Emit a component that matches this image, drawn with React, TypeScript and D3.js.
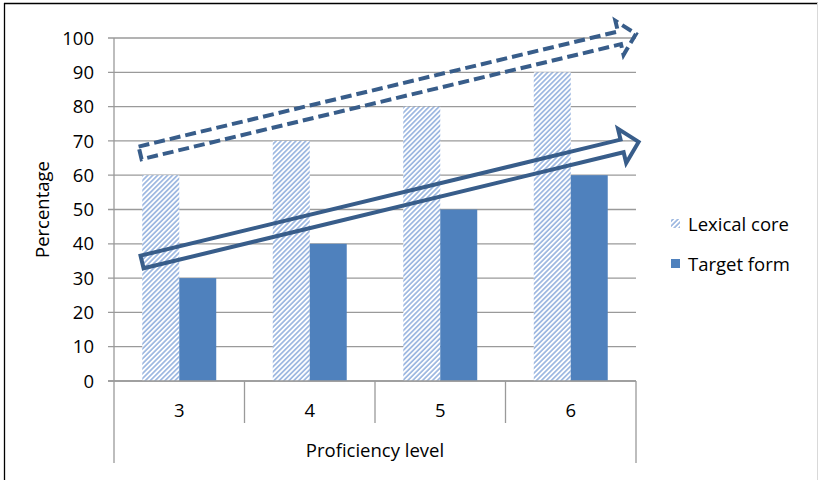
import React from "react";
import * as d3 from "d3";

const categories = ["3", "4", "5", "6"];
const seriesNames = ["Lexical core", "Target form"];
const lexicalCore = [60, 70, 80, 90];
const targetForm = [30, 40, 50, 60];
const yTicks = [0, 10, 20, 30, 40, 50, 60, 70, 80, 90, 100];
// annotation arrows in (category-position, value) space; category position 0..4 spans the axis
const dashedArrow = { from: [0.2, 66.5], to: [4.0, 101.2] };
const solidArrow = { from: [0.215, 34.7], to: [4.02, 69.7] };

const W = 818;
const H = 480;
const left = 114;
const right = 636;
const top = 38;
const bottom = 381;
const FONT = "'Open Sans', sans-serif";
const FS = 18.5;
const ARROW = "#385D8A";

function arrowPath(p0: [number, number], p1: [number, number], s: number, h: number, hl: number) {
  const dx = p1[0] - p0[0];
  const dy = p1[1] - p0[1];
  const L = Math.hypot(dx, dy);
  const ang = Math.atan2(dy, dx);
  const pts: [number, number][] = [
    [0, -s], [L - hl, -s], [L - hl, -h], [L, 0], [L - hl, h], [L - hl, s], [0, s],
  ];
  const c = Math.cos(ang), sn = Math.sin(ang);
  const t = pts.map(([x, y]) => [p0[0] + x * c - y * sn, p0[1] + x * sn + y * c]);
  return "M" + t.map((p) => p.join(",")).join("L") + "Z";
}

export default function App() {
  const x = d3.scaleBand<string>().domain(categories).range([left, right]).paddingInner(0).paddingOuter(0);
  const x1 = d3.scaleBand<string>().domain(seriesNames).range([0, x.bandwidth()]).paddingInner(0).paddingOuter(0.764);
  const y = d3.scaleLinear().domain([0, 100]).range([bottom, top]);
  const xc = d3.scaleLinear().domain([0, 4]).range([left, right]);

  const pt = (p: number[]): [number, number] => [xc(p[0]), y(p[1])];

  return (
    <svg width={W} height={H} style={{ position: "absolute", left: 0, top: 0 }} xmlns="http://www.w3.org/2000/svg">
      <defs>
        <pattern id="hatch" width="3.5" height="3.5" patternUnits="userSpaceOnUse" patternTransform="rotate(45)">
          <rect width="3.5" height="3.5" fill="#ffffff" />
          <line x1="0.9" y1="0" x2="0.9" y2="3.5" stroke="#8FAEDC" strokeWidth="1.5" />
        </pattern>
      </defs>
      <rect x={0} y={0} width={W} height={H} fill="#fff" />
      {/* frame */}
      <line x1={4.5} y1={3} x2={4.5} y2={H} stroke="#000" strokeWidth={1.3} />
      <line x1={4} y1={3.5} x2={W} y2={3.5} stroke="#000" strokeWidth={1.3} />
      <line x1={817.5} y1={3} x2={817.5} y2={H} stroke="#d9d9d9" strokeWidth={1} />

      {/* gridlines & ticks */}
      {yTicks.map((t) => (
        <g key={t}>
          <line x1={left - 6} x2={right} y1={y(t)} y2={y(t)} stroke="#9a9a9a" strokeWidth={1.3} />
          <text x={left - 20} y={y(t)} dy="0.36em" textAnchor="end" fontFamily={FONT} fontSize={FS} fill="#000">
            {t}
          </text>
        </g>
      ))}
      <line x1={left} x2={left} y1={top} y2={463} stroke="#9a9a9a" strokeWidth={1.3} />
      <line x1={right} x2={right} y1={bottom} y2={463} stroke="#9a9a9a" strokeWidth={1.3} />
      {categories.slice(1).map((c) => (
        <line key={c} x1={x(c)!} x2={x(c)!} y1={bottom} y2={423} stroke="#9a9a9a" strokeWidth={1.3} />
      ))}

      {/* bars */}
      {categories.map((c, i) => (
        <g key={c}>
          <rect x={x(c)! + x1("Lexical core")!} y={y(lexicalCore[i])} width={x1.bandwidth()} height={y(0) - y(lexicalCore[i])} fill="url(#hatch)" />
          <rect x={x(c)! + x1("Target form")!} y={y(targetForm[i])} width={x1.bandwidth()} height={y(0) - y(targetForm[i])} fill="#4F81BD" />
        </g>
      ))}
      <line x1={left - 6} x2={right} y1={y(0)} y2={y(0)} stroke="#9a9a9a" strokeWidth={1.3} />

      {/* category labels */}
      {categories.map((c) => (
        <text key={c} x={x(c)! + x.bandwidth() / 2} y={410} dy="0.36em" textAnchor="middle" fontFamily={FONT} fontSize={FS}>
          {c}
        </text>
      ))}
      <text x={(left + right) / 2} y={450} dy="0.36em" textAnchor="middle" fontFamily={FONT} fontSize={FS}>
        Proficiency level
      </text>
      <text transform={`translate(42,${(top + bottom) / 2}) rotate(-90)`} dy="0.36em" textAnchor="middle" fontFamily={FONT} fontSize={FS}>
        Percentage
      </text>

      {/* arrows */}
      <path d={arrowPath(pt(dashedArrow.from), pt(dashedArrow.to), 6.5, 17.5, 17)} fill="none" stroke={ARROW} strokeWidth={4} strokeDasharray="11 5" strokeLinejoin="miter" />
      <path d={arrowPath(pt(solidArrow.from), pt(solidArrow.to), 6.5, 17.5, 17)} fill="none" stroke={ARROW} strokeWidth={4} strokeLinejoin="miter" />

      {/* legend */}
      <rect x={671} y={219} width={9} height={9} fill="url(#hatch)" />
      <text x={688} y={224} dy="0.36em" fontFamily={FONT} fontSize={FS}>{seriesNames[0]}</text>
      <rect x={671} y={259} width={9} height={9} fill="#4F81BD" />
      <text x={688} y={264} dy="0.36em" fontFamily={FONT} fontSize={FS}>{seriesNames[1]}</text>
    </svg>
  );
}
